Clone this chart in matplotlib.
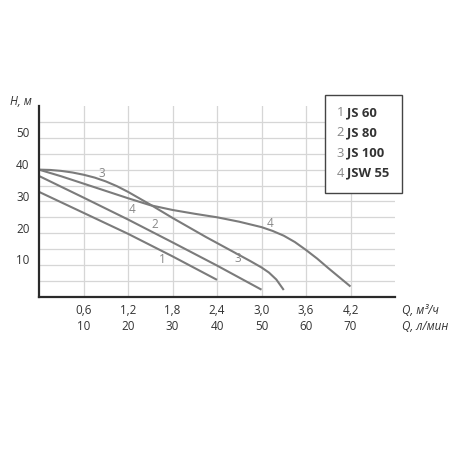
import matplotlib.pyplot as plt
from matplotlib.patches import Rectangle
from matplotlib import transforms

plt.rcParams['font.family'] = ['Open Sans', 'DejaVu Sans']

# pump curves, Q in m3/h, H in m
q1 = [0, 0.6, 1.2, 1.8, 2.4]
h1 = [33, 26.4, 19.8, 12.7, 5.3]

q2 = [0, 0.6, 1.2, 1.8, 2.4, 3.0]
h2 = [38, 31.2, 24.3, 17.1, 9.8, 2.2]

q3 = [0, 0.15, 0.3, 0.45, 0.6, 0.75, 0.9, 1.05, 1.2, 1.35, 1.5, 1.65, 1.8,
      1.95, 2.1, 2.25, 2.4, 2.55, 2.7, 2.85, 3.0, 3.1, 3.2, 3.3]
h3 = [40, 39.9, 39.6, 39.1, 38.4, 37.5, 36.3, 34.8, 33.0, 31.0, 29.0, 26.9, 24.8,
      22.8, 20.8, 18.8, 16.9, 15.0, 13.1, 11.2, 9.2, 7.6, 5.4, 2.1]

q4 = [0, 0.3, 0.6, 0.9, 1.2, 1.5, 1.8, 2.1, 2.4, 2.7, 3.0, 3.15, 3.3, 3.45,
      3.6, 3.75, 3.9, 4.05, 4.2]
h4 = [40, 37.9, 35.6, 33.3, 31.0, 28.8, 27.3, 26.1, 25.0, 23.6, 21.9, 20.7, 19.2, 17.2,
      14.7, 12.0, 9.0, 6.1, 3.2]

curve_labels = ['1', '2', '3', '4']
models = ['JS 60', 'JS 80', 'JS 100', 'JSW 55']

# in-plot number labels (text, Q, H)
label_pos = [('3', 0.84, 38.8), ('4', 1.26, 27.5), ('2', 1.56, 22.8),
             ('1', 1.66, 11.8), ('3', 2.68, 11.9), ('4', 3.11, 22.9)]

q_m3h = [0.6, 1.2, 1.8, 2.4, 3.0, 3.6, 4.2]
q_lmin = [10, 20, 30, 40, 50, 60, 70]
h_ticks = [10, 20, 30, 40, 50]

line_c = '#7b7b7b'
text_c = '#333333'

fig = plt.figure(figsize=(4.5, 4.5), dpi=100)
ax = fig.add_axes([0.0867, 0.3407, 0.7911, 0.4235])

for q, h in [(q1, h1), (q2, h2), (q3, h3), (q4, h4)]:
    ax.plot(q, h, color=line_c, lw=1.5, solid_capstyle='butt', solid_joinstyle='round')

for t, x, y in label_pos:
    ax.text(x, y, t, color='#888888', fontsize=8.5, ha='center', va='center')

ax.set_xlim(0, 4.8)
ax.set_ylim(0, 60)
ax.set_xticks([0.6 * i for i in range(1, 8)])
ax.set_yticks(range(5, 60, 5))
ax.tick_params(length=0, labelbottom=False, labelleft=False)
ax.grid(True, color='#d6d6d6', lw=0.9)
ax.set_axisbelow(True)
for s in ['top', 'right']:
    ax.spines[s].set_visible(False)
for s in ['left', 'bottom']:
    ax.spines[s].set_color('#2a2a2a')
    ax.spines[s].set_linewidth(1.6)

# bottom two-row tick labels
tx = transforms.blended_transform_factory(ax.transData, ax.transAxes)
for q, l in zip(q_m3h, q_lmin):
    ax.text(q, -0.07, f'{q:.1f}'.replace('.', ','), transform=tx, ha='center',
            va='center', fontsize=8.4, color=text_c)
    ax.text(q, -0.157, str(l), transform=tx, ha='center', va='center',
            fontsize=8.4, color=text_c)
ax.text(1.019, -0.07, 'Q, м³/ч', transform=ax.transAxes, ha='left', va='center',
        fontsize=8.4, style='italic', color=text_c)
ax.text(1.019, -0.157, 'Q, л/мин', transform=ax.transAxes, ha='left', va='center',
        fontsize=8.4, style='italic', color=text_c)

ty = transforms.blended_transform_factory(ax.transAxes, ax.transData)
for h in h_ticks:
    ax.text(-0.046, h + 1.3, str(h), transform=ty, ha='center', va='center',
            fontsize=8.4, color=text_c)
ax.text(-0.05, 1.026, 'H, м', transform=ax.transAxes, ha='center', va='center',
        fontsize=8.4, style='italic', color=text_c)

# legend box
fig.patches.append(Rectangle((0.722, 0.5704), 0.1705, 0.2185, transform=fig.transFigure,
                             facecolor='white', edgecolor='#444444', lw=1.0))
leg_y = [112.7, 133, 153.3, 173.3]
for n, m, y in zip(curve_labels, models, leg_y):
    fy = 1 - y / 450
    fig.text(336.7 / 450, fy, n, color='#888888', fontsize=9.4, ha='left', va='center')
    fig.text(346.5 / 450, fy, m, color=text_c, fontsize=9.4, fontweight='bold',
             ha='left', va='center')

fig.savefig('out.png', dpi=100)
